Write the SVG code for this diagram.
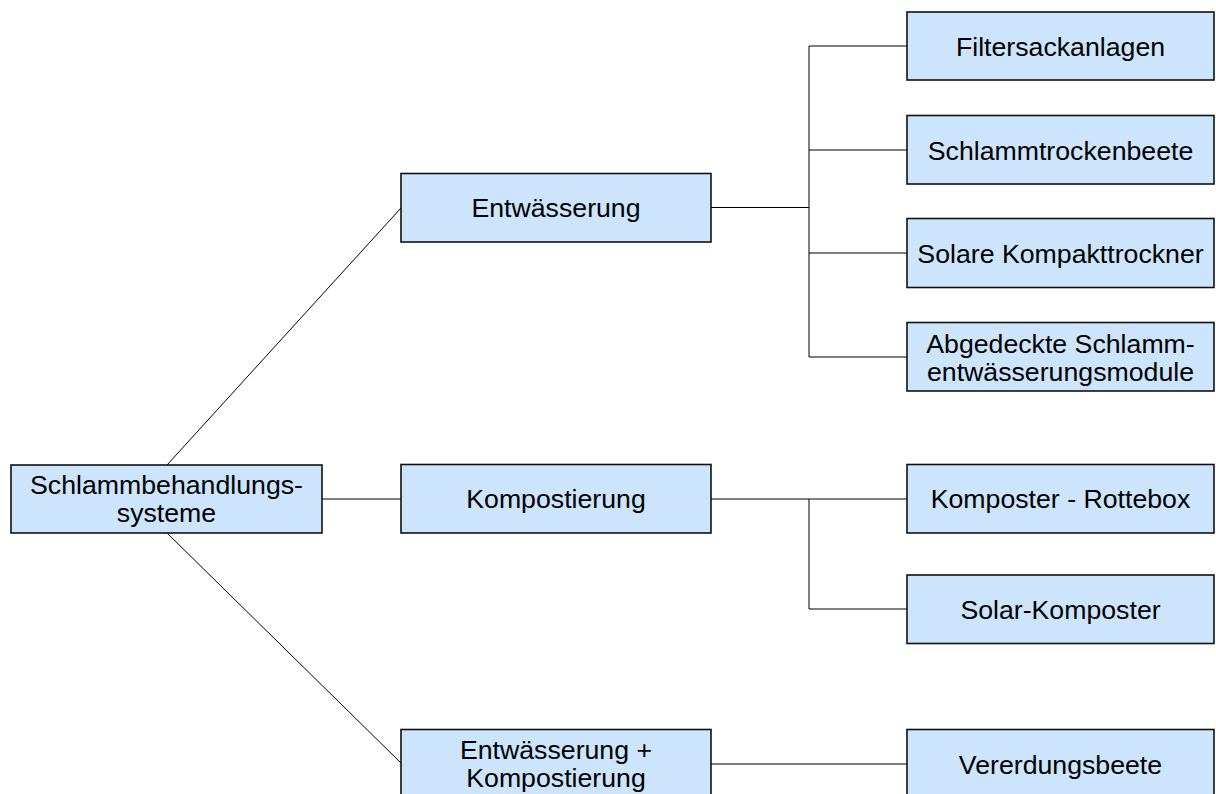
<svg xmlns="http://www.w3.org/2000/svg" width="1216" height="794" viewBox="0 0 1216 794">
<style>
.box{fill:#cce5fc;stroke:#111;stroke-width:1.6}
.lbl{font-family:"Liberation Sans",Arial,sans-serif;font-size:26.7px;fill:#000;text-anchor:middle}
.con{fill:none;stroke:#000;stroke-width:1}
</style>
<rect width="1216" height="794" fill="#fff"/>
<g id="connectors">
<path class="con" d="M167,465 L401,208"/>
<path class="con" d="M167,533 L401,763"/>
<path class="con" d="M322,499 L401,499"/>
<path class="con" d="M711,207.5 L809,207.5"/>
<path class="con" d="M809,46 L809,357 M809,46 L907,46 M809,150 L907,150 M809,253 L907,253 M809,357 L907,357"/>
<path class="con" d="M711,499 L907,499 M809,499 L809,609 L907,609"/>
<path class="con" d="M711,764 L907,764"/>
</g>
<g id="n-root"><rect class="box" x="11" y="465" width="311" height="68"/><text class="lbl" x="166.5" y="494">Schlammbehandlungs-</text><text class="lbl" x="166.5" y="522">systeme</text></g>
<g id="n-entw"><rect class="box" x="401" y="173.5" width="310" height="68.5"/><text class="lbl" x="556" y="217">Entwässerung</text></g>
<g id="n-komp"><rect class="box" x="401" y="464.5" width="310" height="68.5"/><text class="lbl" x="556" y="508">Kompostierung</text></g>
<g id="n-entwkomp"><rect class="box" x="401" y="729.5" width="310" height="70"/><text class="lbl" x="556" y="759">Entwässerung +</text><text class="lbl" x="556" y="787">Kompostierung</text></g>
<g id="n-filter"><rect class="box" x="907" y="12" width="307" height="68"/><text class="lbl" x="1060.5" y="55.5">Filtersackanlagen</text></g>
<g id="n-trocken"><rect class="box" x="907" y="115.5" width="307" height="68.5"/><text class="lbl" x="1060.5" y="159.5">Schlammtrockenbeete</text></g>
<g id="n-solar"><rect class="box" x="907" y="218.5" width="307" height="69"/><text class="lbl" x="1060.5" y="262.5">Solare Kompakttrockner</text></g>
<g id="n-abged"><rect class="box" x="907" y="322.5" width="307" height="68.5"/><text class="lbl" x="1060.5" y="353">Abgedeckte Schlamm-</text><text class="lbl" x="1060.5" y="381">entwässerungsmodule</text></g>
<g id="n-rotte"><rect class="box" x="907" y="464.5" width="307" height="68.5"/><text class="lbl" x="1060.5" y="508">Komposter - Rottebox</text></g>
<g id="n-solarkomp"><rect class="box" x="907" y="575" width="307" height="68.5"/><text class="lbl" x="1060.5" y="618.5">Solar-Komposter</text></g>
<g id="n-verer"><rect class="box" x="907" y="729.5" width="307" height="70"/><text class="lbl" x="1060.5" y="773.5">Vererdungsbeete</text></g>
</svg>
